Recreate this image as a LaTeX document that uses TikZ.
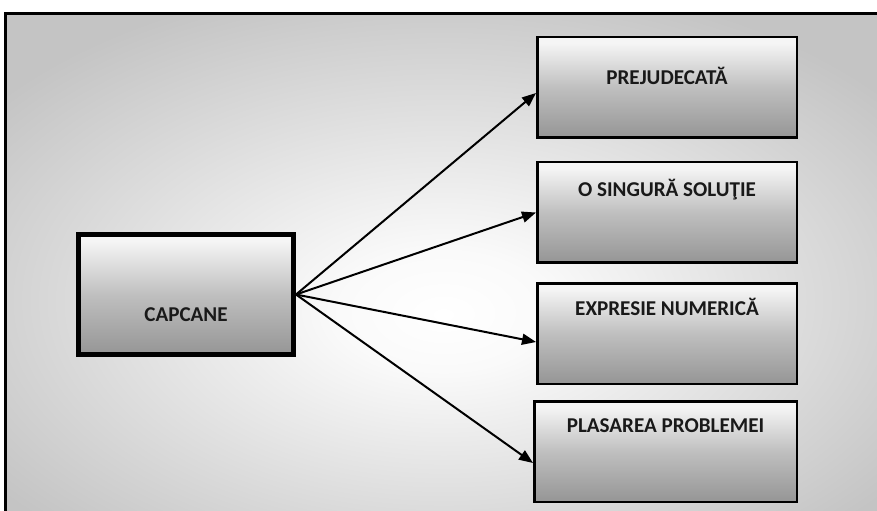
\documentclass[tikz,border=0pt]{standalone}
\usepackage{fontspec}
\newfontfamily\calibri{Carlito}
\usetikzlibrary{arrows.meta}

% Sombreamentos
\pgfdeclareradialshading{fundo}{\pgfpoint{0bp}{-5bp}}{color(0bp)=(white); color(6bp)=(white!98!black); color(32bp)=(black!23); color(80bp)=(black!23)}
\pgfdeclareverticalshading{caixa}{100bp}{color(0bp)=(black!52); color(15bp)=(black!48); color(50bp)=(black!25); color(72bp)=(black!4); color(100bp)=(white)}

\begin{document}
\begin{tikzpicture}[
  caixa/.style={draw=black, line width=0.05cm, shading=caixa, minimum width=5.19cm, minimum height=2.01cm, inner sep=0pt},
  texto/.style={font=\calibri\bfseries\fontsize{12}{14}\selectfont, text=black!90},
  seta/.style={line width=0.04cm, -{Triangle[length=0.28cm,width=0.22cm]}}
]
\useasboundingbox (0,0) rectangle (17.54,-10.22);

% Fundo
\shade[shading=fundo] (0.14,-0.3) rectangle (17.6,-10.3);

% Moldura
\draw[line width=0.06cm] (0.12,-10.3) -- (0.12,-0.27) -- (17.6,-0.27);

% Caixa principal
\node[caixa, line width=0.1cm, minimum width=4.3cm, minimum height=2.4cm] (capcane) at (3.72,-5.89) {};
\node[texto] (tcapcane) at ([yshift=-0.41cm]capcane.center) {CAPCANE};

% Caixas da direita
\node[caixa] (b1) at (13.34,-1.75) {};
\node[texto] (t1) at ([yshift=-0.795cm]b1.north) {PREJUDECATĂ};

\node[caixa] (b2) at (13.34,-4.25) {};
\node[texto] (t2) at ([yshift=-0.575cm]b2.north) {O SINGURĂ SOLUŢIE};

\node[caixa] (b3) at (13.34,-6.67) {};
\node[texto] (t3) at ([yshift=-0.495cm]b3.north) {EXPRESIE NUMERICĂ};

\node[caixa, minimum width=5.25cm] (b4) at (13.31,-9.03) {};
\node[texto] (t4) at ([yshift=-0.515cm]b4.north) {PLASAREA PROBLEMEI};

% Setas
\draw[seta] (capcane.east) -- ([yshift=-0.11cm]b1.west);
\draw[seta] (capcane.east) -- (b2.west);
\draw[seta] (capcane.east) -- ([yshift=-0.17cm]b3.west);
\draw[seta] (capcane.east) -- ([yshift=-0.23cm]b4.west);

\end{tikzpicture}
\end{document}
